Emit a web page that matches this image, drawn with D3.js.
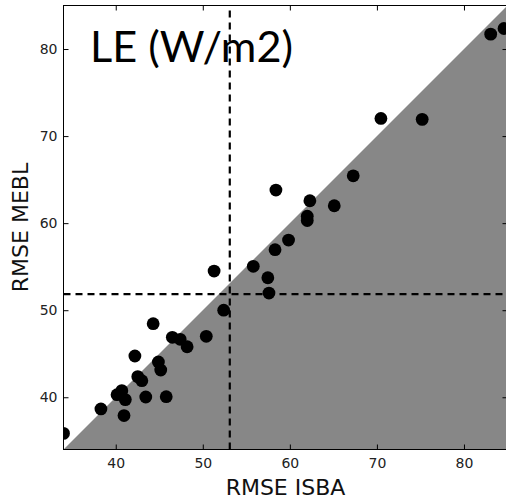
<!DOCTYPE html>
<html>
<head>
<meta charset="utf-8">
<script src="https://cdn.jsdelivr.net/npm/d3@7"></script>
<style>
  html, body { margin: 0; padding: 0; background: #fff; }
  svg { display: block; }
</style>
</head>
<body>
<svg id="chart" width="506" height="502"></svg>
<script>
// ---- data ----
const isba = [34.0, 38.3, 40.95, 40.15, 40.7, 41.1, 43.45, 45.8, 42.53, 43.0,
              42.2, 44.9, 45.17, 44.3, 46.5, 47.4, 48.2, 50.4, 52.4, 51.3,
              55.8, 57.47, 57.6, 58.3, 59.85, 62.0, 62.0, 62.3, 65.1, 67.28,
              58.4, 70.46, 75.2, 83.07, 84.6];
const mebl = [35.85, 38.66, 37.9, 40.3, 40.76, 39.73, 40.03, 40.07, 42.37, 41.9,
              44.74, 44.05, 43.13, 48.45, 46.89, 46.66, 45.8, 47.0, 50.0, 54.5,
              55.04, 53.73, 51.97, 56.95, 58.06, 60.8, 60.3, 62.57, 62.0, 65.44,
              63.8, 72.03, 71.92, 81.71, 82.36];
const xDomain = [34, 85];
const yDomain = [34, 85];
const xTicks = [40, 50, 60, 70, 80];
const yTicks = [40, 50, 60, 70, 80];
const meanIsba = 53.1;
const meanMebl = 51.84;
const titleText = "LE (W/m2)";
const xLabel = "RMSE ISBA";
const yLabel = "RMSE MEBL";

// ---- layout ----
const pL = 63.5, pR = 507.5, pT = 5.5, pB = 449.5;
const svg = d3.select("#chart");
const x = d3.scaleLinear().domain(xDomain).range([pL, pR]);
const y = d3.scaleLinear().domain(yDomain).range([pB, pT]);

svg.append("defs").append("clipPath").attr("id", "clip")
  .append("rect").attr("x", pL).attr("y", pT)
  .attr("width", pR - pL).attr("height", pB - pT);

const plot = svg.append("g").attr("clip-path", "url(#clip)");

// shaded area below the 1:1 line
const lo = Math.max(xDomain[0], yDomain[0]);
const hi = Math.min(xDomain[1], yDomain[1]);
const area = [[lo, lo], [hi, hi], [xDomain[1], yDomain[0]]];
plot.append("path")
  .attr("d", d3.line().x(d => x(d[0])).y(d => y(d[1]))(area) + "Z")
  .attr("fill", "#878787");

// dashed mean lines
plot.append("line")
  .attr("x1", x(meanIsba)).attr("x2", x(meanIsba))
  .attr("y1", y(yDomain[0])).attr("y2", y(yDomain[1]))
  .attr("stroke", "#000").attr("stroke-width", 2.2).attr("stroke-dasharray", "7,5");
plot.append("line")
  .attr("x1", x(xDomain[0])).attr("x2", x(xDomain[1]))
  .attr("y1", y(meanMebl)).attr("y2", y(meanMebl))
  .attr("stroke", "#000").attr("stroke-width", 2.2).attr("stroke-dasharray", "7,5");

// points
plot.selectAll("circle").data(isba.map((v, i) => [v, mebl[i]]))
  .enter().append("circle")
  .attr("cx", d => x(d[0])).attr("cy", d => y(d[1]))
  .attr("r", 6.4).attr("fill", "#000");

// frame
svg.append("rect").attr("x", pL).attr("y", pT)
  .attr("width", pR - pL).attr("height", pB - pT)
  .attr("fill", "none").attr("stroke", "#000").attr("stroke-width", 1);

// axes (ticks pointing inward, mirrored on top and right)
const tickFont = "DejaVu Sans, sans-serif";
function styleAxis(g) {
  g.select(".domain").remove();
  g.selectAll(".tick line").attr("stroke", "#000").attr("stroke-width", 1);
  g.selectAll(".tick text").attr("font-family", tickFont).attr("font-size", 14).attr("fill", "#222");
}
svg.append("g").attr("transform", `translate(0,${pB})`)
  .call(d3.axisBottom(x).tickValues(xTicks).tickFormat(d3.format("d")).tickSizeInner(-5).tickPadding(9))
  .call(styleAxis);
svg.append("g").attr("transform", `translate(0,${pT})`)
  .call(d3.axisTop(x).tickValues(xTicks).tickSizeInner(-5).tickFormat(""))
  .call(styleAxis);
svg.append("g").attr("transform", `translate(${pL},0)`)
  .call(d3.axisLeft(y).tickValues(yTicks).tickFormat(d3.format("d")).tickSizeInner(-5).tickPadding(6))
  .call(styleAxis);
svg.append("g").attr("transform", `translate(${pR},0)`)
  .call(d3.axisRight(y).tickValues(yTicks).tickSizeInner(-5).tickFormat(""))
  .call(styleAxis);

// axis labels
svg.append("text").attr("x", (pL + pR) / 2).attr("y", 495)
  .attr("text-anchor", "middle").attr("font-family", tickFont).attr("font-size", 22)
  .attr("fill", "#111").text(xLabel);
svg.append("text").attr("transform", `translate(28,${(pT + pB) / 2}) rotate(-90)`)
  .attr("text-anchor", "middle").attr("font-family", tickFont).attr("font-size", 22)
  .attr("fill", "#111").text(yLabel);

// in-plot title
svg.append("text").attr("x", 90).attr("y", 62)
  .attr("font-family", "Lato, 'Open Sans', sans-serif").attr("font-size", 42)
  .attr("textLength", 203).attr("lengthAdjust", "spacingAndGlyphs")
  .attr("fill", "#000").text(titleText);
</script>
</body>
</html>
